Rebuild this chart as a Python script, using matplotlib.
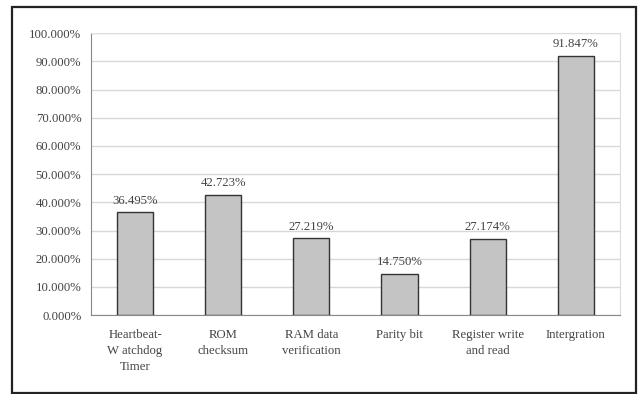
import matplotlib
matplotlib.use("Agg")
import matplotlib.pyplot as plt
from matplotlib.patches import Rectangle
from matplotlib.ticker import FuncFormatter

categories = ["Heartbeat-\nW atchdog\nTimer", "ROM\nchecksum", "RAM data\nverification",
              "Parity bit", "Register write\nand read", "Intergration"]
values = [36.495, 42.723, 27.219, 14.750, 27.174, 91.847]
yticks = list(range(0, 101, 10))

plt.rcParams["font.family"] = ["Liberation Serif", "DejaVu Serif"]
plt.rcParams["font.size"] = 9.2

fig = plt.figure(figsize=(6.41, 3.94), dpi=100)
ax = fig.add_axes([0.142, 0.2, 0.825, 0.716])

# outer chart frame
fig.patches.append(Rectangle((0.019, 0.003), 0.973, 0.98, transform=fig.transFigure,
                             fill=False, edgecolor="#222222", linewidth=1.6))

x = range(len(categories))
ax.bar(x, values, width=0.41, color="#c4c4c4", edgecolor="#333333", linewidth=1.0, zorder=3)
for xi, v in zip(x, values):
    ax.text(xi, v + 2.0, f"{v:.3f}%", ha="center", va="bottom", color="#444444")

ax.set_xlim(-0.5, len(categories) - 0.5)
ax.set_ylim(0, 100)
ax.set_yticks(yticks)
ax.yaxis.set_major_formatter(FuncFormatter(lambda v, _: f"{v:.3f}%"))
ax.set_xticks(list(x))
ax.set_xticklabels(categories, linespacing=1.45)
ax.tick_params(length=0, colors="#444444")
ax.tick_params(axis="x", pad=10)
ax.tick_params(axis="y", pad=7)
ax.grid(axis="y", color="#d8d8d8", linewidth=1.0, zorder=0)
for side in ["left", "bottom"]:
    ax.spines[side].set_color("#888888")
for side in ["top", "right"]:
    ax.spines[side].set_color("#dddddd")

fig.savefig("out.png", dpi=100)
